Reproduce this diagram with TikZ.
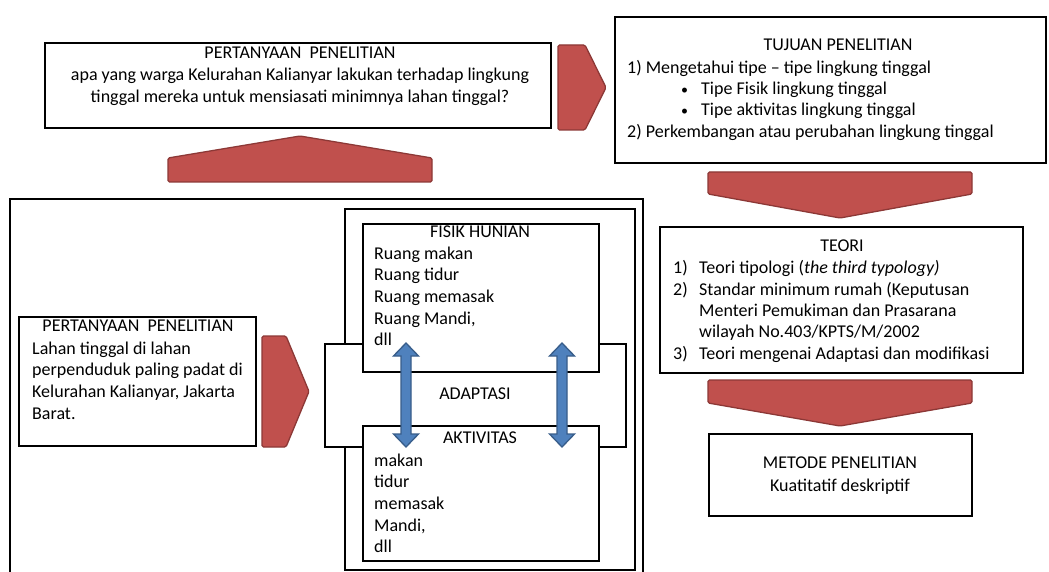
\documentclass[tikz,border=0pt]{standalone}
\usepackage{fontspec}
\setmainfont{Carlito}
\usetikzlibrary{positioning}

\definecolor{arrowred}{HTML}{C0504D}
\definecolor{arrowredline}{HTML}{8C3836}
\definecolor{arrowblue}{HTML}{4F81BD}
\definecolor{arrowblueline}{HTML}{385D8A}

\tikzset{
  box/.style={draw=black, line width=2.4pt, fill=white, inner sep=0pt},
  txt/.style={inner sep=0pt, font=\fontsize{18}{21}\selectfont, text height=13pt, text depth=4.5pt},
  redarrow/.style={fill=arrowred, draw=arrowredline, line width=1.3pt, line join=round},
  bluearrow/.style={fill=arrowblue, draw=arrowblueline, line width=1.3pt, line join=miter},
}

\begin{document}
\begin{tikzpicture}[x=1pt,y=-1pt]
            \useasboundingbox (0,0) rectangle (1049,572);
            \clip (0,0) rectangle (1049,572);

            % pertanyaan penelitian (top)
            \node[box, minimum width=506pt, minimum height=85pt] (tanya) at (298,85.5) {};
            \node[txt] (tanya-judul) at (300,54) {PERTANYAAN\ \ PENELITIAN};
            \node[txt] (tanya-1) at (300,76) {apa yang warga Kelurahan Kalianyar lakukan terhadap lingkung};
            \node[txt] (tanya-2) at (300,98) {tinggal mereka untuk mensiasati minimnya lahan tinggal?};

            \draw[redarrow, rounded corners=1.5pt] (558,45) -- (585,45) -- (606,87.5) -- (585,130) -- (558,130) -- cycle;
            \draw[redarrow, rounded corners=1.5pt] (168,182) -- (168,158) -- (300,136) -- (432,158) -- (432,182) -- cycle;

            % tujuan penelitian
            \node[box, minimum width=431pt, minimum height=146pt] (tujuan) at (830.5,90) {};
            \node[txt] (tujuan-judul) at (838,46) {TUJUAN PENELITIAN};
            \node[txt, anchor=west] (tujuan-1) at (627,69) {1) Mengetahui tipe – tipe lingkung tinggal};
            \node[txt, anchor=west, font=\fontsize{14}{16}\selectfont] (tujuan-b1) at (681,90) {•};
            \node[txt, anchor=west] (tujuan-1a) at (701,90) {Tipe Fisik lingkung tinggal};
            \node[txt, anchor=west, font=\fontsize{14}{16}\selectfont] (tujuan-b2) at (681,111) {•};
            \node[txt, anchor=west] (tujuan-1b) at (701,111) {Tipe aktivitas lingkung tinggal};
            \node[txt, anchor=west] (tujuan-2) at (627,133) {2) Perkembangan atau perubahan lingkung tinggal};

            \draw[redarrow, rounded corners=1.5pt] (708,172) -- (972,172) -- (972,194) -- (840,218) -- (708,194) -- cycle;

            % teori
            \node[box, minimum width=363pt, minimum height=146pt] (teori) at (841.5,300) {};
            \node[txt] (teori-judul) at (842,247) {TEORI};
            \node[txt, anchor=west] (teori-n1) at (673,269) {1)};
            \node[txt, anchor=west] (teori-1) at (699,269) {Teori tipologi (\textit{the third typology)}};
            \node[txt, anchor=west] (teori-n2) at (673,291) {2)};
            \node[txt, anchor=west] (teori-2) at (699,291) {Standar minimum rumah (Keputusan};
            \node[txt, anchor=west] (teori-2b) at (699,312) {Menteri Pemukiman dan Prasarana};
            \node[txt, anchor=west] (teori-2c) at (699,333) {wilayah No.403/KPTS/M/2002};
            \node[txt, anchor=west] (teori-n3) at (673,355) {3)};
            \node[txt, anchor=west] (teori-3) at (699,355) {Teori mengenai Adaptasi dan modifikasi};

            \draw[redarrow, rounded corners=1.5pt] (708,380) -- (972,380) -- (972,403) -- (840,426) -- (708,403) -- cycle;

            % metode penelitian
            \node[box, minimum width=263pt, minimum height=82pt] (metode) at (840.5,475) {};
            \node[txt] (metode-judul) at (840,464) {METODE PENELITIAN};
            \node[txt] (metode-1) at (840,487) {Kuatitatif deskriptif};

            % lingkup (bottom left)
            \draw[black, line width=2.4pt] (10,600) -- (10,199) -- (643,199) -- (643,600);
            \node[box, minimum width=237pt, minimum height=129pt] (lahan) at (137.5,381.5) {};
            \node[txt] (lahan-judul) at (138,327) {PERTANYAAN\ \ PENELITIAN};
            \foreach \t [count=\i] in {Lahan tinggal di lahan, perpenduduk paling padat di, {Kelurahan Kalianyar, Jakarta}, Barat.}
              \node[txt, anchor=west] (lahan-\i) at (32,{350+21.6*(\i-1)}) {\t};

            \draw[redarrow, rounded corners=1.5pt] (262,336) -- (286,336) -- (309,391.5) -- (286,447) -- (262,447) -- cycle;

            % hunian
            \node[box, minimum width=290pt, minimum height=361pt] (hunian) at (490,389.5) {};
            \node[box, minimum width=301pt, minimum height=103pt] (adaptasi) at (475.5,395.5) {};
            \node[txt] (adaptasi-t) at (475,395) {ADAPTASI};
            \node[box, minimum width=236pt, minimum height=148pt] (fisik) at (481,298) {};
            \node[txt] (fisik-judul) at (480,233) {FISIK HUNIAN};
            \foreach \t [count=\i] in {Ruang makan, Ruang tidur, Ruang memasak, {Ruang Mandi,}, dll}
              \node[txt, anchor=west] (fisik-\i) at (374,{255+21.6*(\i-1)}) {\t};
            \node[box, minimum width=236pt, minimum height=135pt] (aktivitas) at (481,493.5) {};
            \node[txt] (aktivitas-judul) at (480,439) {AKTIVITAS};
            \foreach \t [count=\i] in {makan, tidur, memasak, {Mandi,}, dll}
              \node[txt, anchor=west] (aktivitas-\i) at (374,{462+21.6*(\i-1)}) {\t};

            \foreach \x in {406,562}
              \draw[bluearrow] (\x,343) -- ({\x+12.5},356) -- ({\x+5},356) -- ({\x+5},434) -- ({\x+12.5},434)
                -- (\x,447) -- ({\x-12.5},434) -- ({\x-5},434) -- ({\x-5},356) -- ({\x-12.5},356) -- cycle;
          \end{tikzpicture}
\end{document}
